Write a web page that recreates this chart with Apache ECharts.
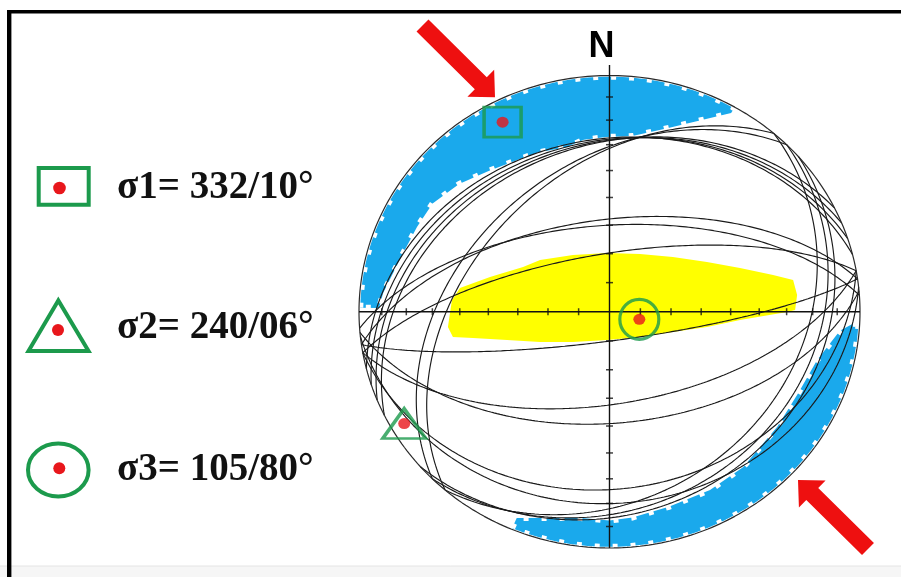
<!DOCTYPE html>
<html>
<head>
<meta charset="utf-8">
<script src="https://cdn.jsdelivr.net/npm/echarts@6/dist/echarts.min.js"></script>
<style>
  html, body { margin: 0; padding: 0; background: #ffffff; }
  #chart { width: 901px; height: 577px; }
</style>
</head>
<body>
<div id="chart"></div>
<script>
// Principal stress axes: trend / plunge (degrees)
const stressNames = ['σ1', 'σ2', 'σ3'];
const stressTrend = [332, 240, 105];
const stressPlunge = [10, 6, 80];

// Fault planes: dip direction / dip (degrees)
const planeDipDir = [338, 342, 334, 346, 315, 311, 352, 356, 350, 172, 170, 175, 170, 174, 135, 131, 139];
const planeDip    = [30,  29,  31,  28,  40,  43,  58,  60,  70,  80,  58,  51,  26,  20,  21,  26,  18];

// Graduation marks along the N-S and E-W diameters (plunge, degrees)
const tickPlunges = [10, 20, 30, 40, 50, 60, 70, 80];

// Compression field (blue): inner edge as azimuth / net radius, outer edge on the primitive
const compNorthAz = [271, 275, 285, 295, 303, 312, 321, 330, 337, 346, 352, 359, 367, 376, 384, 390];
const compNorthR  = [0.92, 0.907, 0.865, 0.848, 0.842, 0.808, 0.767, 0.741, 0.732, 0.718, 0.735, 0.74, 0.749, 0.806, 0.886, 0.971];
const compSouthAz = [93, 95, 104, 114, 126, 141, 152, 164, 174, 180, 188, 203];
const compSouthR  = [0.973, 0.923, 0.853, 0.829, 0.828, 0.847, 0.855, 0.859, 0.876, 0.884, 0.881, 0.948];

// Extension field (yellow): outline in net coordinates
const extX = [-0.597, -0.477, -0.345, -0.277, -0.146, -0.010, 0.122, 0.253, 0.389, 0.521, 0.653, 0.733, 0.749, 0.741, 0.709, 0.521, 0.389, 0.253, 0.122, -0.010, -0.146, -0.277, -0.409, -0.545, -0.625, -0.645, -0.629];
const extY = [0.101, 0.147, 0.189, 0.219, 0.240, 0.249, 0.244, 0.232, 0.211, 0.185, 0.156, 0.134, 0.071, 0.007, -0.001, -0.035, -0.065, -0.086, -0.107, -0.120, -0.128, -0.128, -0.120, -0.111, -0.107, -0.065, 0.050];

// Regional shortening arrows (tail x, tail y, tip x, tip y in net coordinates)
const arrowMarks = [
  [-0.7465, 1.2116, -0.4571, 0.9077],
  [1.0319, -1.0042, 0.7525, -0.7122]
];

const RED = '#e8171c';
const GREEN = '#1c9a4c';
const BLUE = '#1aa9ec';
const YELLOW = '#ffff00';
const INK = '#1a1a1a';

const rad = Math.PI / 180;

// Lambert equal-area (Schmidt), lower hemisphere
function projectLine(trend, plunge) {
  const r = Math.SQRT2 * Math.sin((90 - plunge) * rad / 2);
  return [r * Math.sin(trend * rad), r * Math.cos(trend * rad)];
}
function polar(az, r) {
  return [r * Math.sin(az * rad), r * Math.cos(az * rad)];
}
function greatCircle(dd, dip) {
  const d = dd * rad, g = dip * rad;
  const s = [Math.cos(d - Math.PI / 2), Math.sin(d - Math.PI / 2), 0];
  const v = [Math.cos(g) * Math.cos(d), Math.cos(g) * Math.sin(d), Math.sin(g)];
  const pts = [];
  for (let i = 0; i <= 180; i++) {
    const a = i * rad;
    const n = Math.cos(a) * s[0] + Math.sin(a) * v[0];
    const e = Math.cos(a) * s[1] + Math.sin(a) * v[1];
    const z = Math.cos(a) * s[2] + Math.sin(a) * v[2];
    const k = 1 / Math.sqrt(1 + Math.max(z, 0));
    pts.push([e * k, n * k]);
  }
  return pts;
}

// Region outlines for the custom polygon series
function bandOutline(azs, rs, outerR) {
  const pts = [];
  const a0 = azs[0], a1 = azs[azs.length - 1];
  for (let a = a0; a <= a1; a += 1) pts.push(polar(a, outerR));
  for (let i = azs.length - 1; i >= 0; i--) pts.push(polar(azs[i], rs[i]));
  return pts;
}
const regions = [
  { pts: bandOutline(compNorthAz, compNorthR, 0.995), color: BLUE, rough: true },
  { pts: bandOutline(compSouthAz, compSouthR, 0.995), color: BLUE, rough: true },
  { pts: extX.map((x, i) => [x, extY[i]]), color: YELLOW, rough: false }
];

const primitive = [];
for (let a = 0; a <= 360; a += 1) primitive.push(polar(a, 1));

const series = [];

// contoured fields; the blue fields get a stepped, ragged rim
series.push({
  type: 'custom',
  silent: true,
  z: 1,
  data: regions.map((r, i) => [i]),
  renderItem: function (params, api) {
    const reg = regions[params.dataIndex];
    const style = { fill: reg.color };
    if (reg.rough) {
      style.stroke = '#ffffff';
      style.lineWidth = 6;
      style.lineDash = [5, 13];
    }
    return {
      type: 'polygon',
      shape: { points: reg.pts.map(p => api.coord(p)) },
      style: style
    };
  }
});

planeDipDir.forEach((dd, i) => {
  series.push({
    type: 'line',
    data: greatCircle(dd, planeDip[i]),
    showSymbol: false,
    silent: true,
    clip: false,
    z: 3,
    lineStyle: { color: INK, width: 1.15 }
  });
});

series.push({
  type: 'line', data: primitive, showSymbol: false, silent: true, clip: false, z: 4,
  lineStyle: { color: '#2a2a2a', width: 1.2 }
});
series.push({
  type: 'line', data: [[-1, 0], [1, 0]], showSymbol: false, silent: true, clip: false, z: 4,
  lineStyle: { color: '#111', width: 1.4 }
});
series.push({
  type: 'line', data: [[0, 1.0444], [0, -1]], showSymbol: false, silent: true, clip: false, z: 4,
  lineStyle: { color: '#111', width: 1.4 }
});

// graduation marks
const ticksEW = [], ticksNS = [];
tickPlunges.forEach(p => {
  ticksEW.push(projectLine(90, p), projectLine(270, p));
  ticksNS.push(projectLine(0, p), projectLine(180, p));
});
series.push({
  type: 'scatter', data: ticksEW, symbol: 'rect', symbolSize: [1.5, 7], silent: true, clip: false, z: 5,
  itemStyle: { color: '#111' }
});
series.push({
  type: 'scatter', data: ticksNS, symbol: 'rect', symbolSize: [7, 1.5], silent: true, clip: false, z: 5,
  itemStyle: { color: '#111' }
});

// stress axes
const stressPts = stressTrend.map((t, i) => projectLine(t, stressPlunge[i]));
const stressSymbols = ['rect', 'triangle', 'circle'];
const stressSizes = [[37, 30], [43, 30], [39, 40]];
stressPts.forEach((p, i) => {
  series.push({
    type: 'scatter', name: stressNames[i], data: [p], symbol: stressSymbols[i], symbolSize: stressSizes[i],
    silent: true, clip: false, z: 7,
    itemStyle: { color: 'rgba(0,0,0,0)', borderColor: GREEN, borderWidth: 3.2 }
  });
});
series.push({
  type: 'scatter', data: stressPts, symbol: 'circle', symbolSize: [12, 11], silent: true, clip: false, z: 8,
  itemStyle: { color: RED }
});

// shortening arrows
series.push({
  type: 'custom', silent: true, z: 9,
  data: arrowMarks,
  renderItem: function (params, api) {
    const t = api.coord([api.value(0), api.value(1)]);
    const h = api.coord([api.value(2), api.value(3)]);
    const dx = h[0] - t[0], dy = h[1] - t[1];
    const L = Math.sqrt(dx * dx + dy * dy);
    const ux = dx / L, uy = dy / L, px = -uy, py = ux;
    const sw = 8.5, hw = 19, hl = 20;
    const b = [h[0] - ux * hl, h[1] - uy * hl];
    return {
      type: 'polygon',
      shape: { points: [
        [t[0] + px * sw, t[1] + py * sw],
        [b[0] + px * sw, b[1] + py * sw],
        [b[0] + px * hw, b[1] + py * hw],
        h,
        [b[0] - px * hw, b[1] - py * hw],
        [b[0] - px * sw, b[1] - py * sw],
        [t[0] - px * sw, t[1] - py * sw]
      ] },
      style: { fill: '#ee1010' }
    };
  }
});

// legend block, frame and north label
const legendFont = { fontFamily: 'Liberation Serif, Times New Roman, serif', fontWeight: 'bold', fontSize: 39, fill: '#111' };
const legendRows = [188, 328, 470];
const graphic = [
  { type: 'rect', shape: { x: 0, y: 566, width: 901, height: 11 }, style: { fill: '#f6f6f6' }, z: 0 },
  { type: 'line', shape: { x1: 0, y1: 566, x2: 901, y2: 566 }, style: { stroke: '#e4e4e4', lineWidth: 1 } },
  { type: 'line', shape: { x1: 7, y1: 11.7, x2: 901, y2: 11.7 }, style: { stroke: '#000', lineWidth: 3.6 } },
  { type: 'line', shape: { x1: 9.2, y1: 10, x2: 9.2, y2: 577 }, style: { stroke: '#000', lineWidth: 4.4 } },
  {
    type: 'text', x: 601.5, y: 47, z: 10,
    style: { text: 'N', textAlign: 'center', textVerticalAlign: 'middle', fill: '#000',
      fontFamily: 'Liberation Sans, Arial, sans-serif', fontWeight: 'bold', fontSize: 36 }
  },
  { type: 'rect', shape: { x: 38.7, y: 168, width: 50, height: 36.7 }, style: { fill: 'none', stroke: GREEN, lineWidth: 4 } },
  { type: 'circle', shape: { cx: 59.5, cy: 188, r: 6.3 }, style: { fill: RED } },
  { type: 'polygon', shape: { points: [[58.3, 300.5], [28.5, 351], [88.5, 351]] }, style: { fill: 'none', stroke: GREEN, lineWidth: 4, lineJoin: 'miter' } },
  { type: 'circle', shape: { cx: 58, cy: 330, r: 6 }, style: { fill: RED } },
  { type: 'ellipse', shape: { cx: 58.3, cy: 470, rx: 30.3, ry: 26.5 }, style: { fill: 'none', stroke: GREEN, lineWidth: 4 } },
  { type: 'circle', shape: { cx: 59.3, cy: 468.3, r: 6 }, style: { fill: RED } }
];
const legendText = stressNames.map((n, i) => n + '= ' + stressTrend[i] + '/' + String(stressPlunge[i]).padStart(2, '0') + '°');
legendText.forEach((txt, i) => {
  graphic.push({
    type: 'text', x: 117, y: legendRows[i],
    style: Object.assign({ text: txt, textVerticalAlign: 'middle', textAlign: 'left' }, legendFont)
  });
});

const chart = echarts.init(document.getElementById('chart'), null, { renderer: 'canvas' });
chart.setOption({
  animation: false,
  backgroundColor: '#ffffff',
  grid: { left: 359, top: 75.5, width: 501, height: 472.5, show: false },
  xAxis: { type: 'value', min: -1, max: 1, show: false },
  yAxis: { type: 'value', min: -1, max: 1, show: false },
  series: series,
  graphic: graphic
});
</script>
</body>
</html>
